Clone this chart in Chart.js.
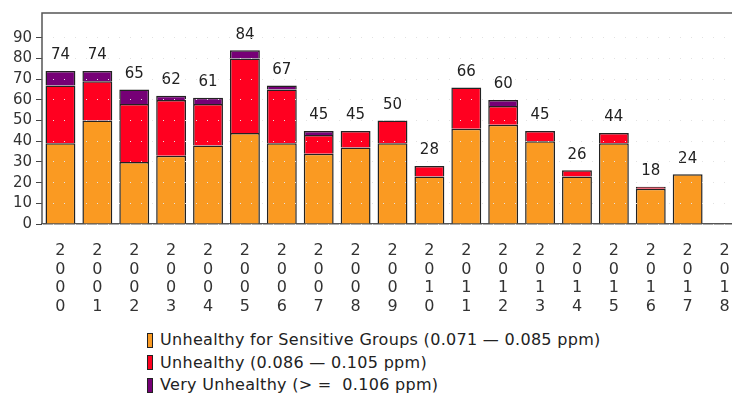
<!DOCTYPE html>
<html>
<head>
<meta charset="utf-8">
<script src="https://cdn.jsdelivr.net/npm/chart.js@4"></script>
<style>
  html, body { margin: 0; padding: 0; background: #fff; overflow: hidden; }
  #wrap { position: relative; width: 732px; height: 402px; overflow: hidden; }
  #chart { position: absolute; left: 0; top: 0; }
  #legend { position: absolute; left: 147px; top: 329px; font-family: "DejaVu Sans", sans-serif; font-size: 16px; letter-spacing: 0.3px; color: #222; }
  .row { height: 22.5px; line-height: 22.5px; white-space: pre; display: flex; align-items: center; }
  .box { width: 4px; height: 13px; border: 1px solid #222; margin-right: 7px; }
</style>
</head>
<body>
<div id="wrap">
  <canvas id="chart" width="745" height="322"></canvas>
  <div id="legend"></div>
</div>
<script>
// Ozone exceedance days per year, split by AQI category
const years = ['2000','2001','2002','2003','2004','2005','2006','2007','2008','2009',
               '2010','2011','2012','2013','2014','2015','2016','2017','2018'];
const sensitiveDays = [39, 50, 30, 33, 38, 44, 39, 34, 37, 39, 23, 46, 48, 40, 23, 39, 17, 24, null];
const unhealthyDays = [28, 19, 28, 27, 20, 36, 26,  9,  8, 11,  5, 20,  9,  5,  3,  5,  1, null, null];
const veryUnhealthyDays = [7, 5, 7, 2, 3, 4, 2, 2, null, null, null, null, 3, null, null, null, null, null, null];

const seriesNames = [
  'Unhealthy for Sensitive Groups (0.071 \u2014 0.085 ppm)',
  'Unhealthy (0.086 \u2014 0.105 ppm)',
  'Very Unhealthy (> =  0.106 ppm)'
];
const seriesColors = ['#FA9A22', '#FF0020', '#760076'];
const yTicks = [0, 10, 20, 30, 40, 50, 60, 70, 80, 90];

const FONT = '"DejaVu Sans", sans-serif';

// Year labels are stacked one digit per line
const yearLabels = years.map(y => y.split(''));

const allSeries = [sensitiveDays, unhealthyDays, veryUnhealthyDays];

// Totals written above each stack
const totalsPlugin = {
  id: 'totals',
  afterDatasetsDraw(chart) {
    const ctx = chart.ctx;
    const xs = chart.scales.x, ys = chart.scales.y;
    ctx.save();
    ctx.font = '15px ' + FONT;
    ctx.fillStyle = '#222';
    ctx.textAlign = 'center';
    ctx.textBaseline = 'bottom';
    years.forEach((yr, i) => {
      const total = allSeries.reduce((s, arr) => s + (arr[i] || 0), 0);
      if (!total) return;
      ctx.fillText(String(total), xs.getPixelForValue(i), ys.getPixelForValue(total) - 8);
    });
    ctx.restore();
  }
};

// Frame lines: top edge and left axis of the plot area
const frame = {
  id: 'frame',
  afterDraw(chart) {
    const a = chart.chartArea, ctx = chart.ctx;
    ctx.save();
    ctx.strokeStyle = '#555';
    ctx.lineWidth = 1.5;
    ctx.setLineDash([]);
    ctx.beginPath();
    ctx.moveTo(a.right, a.top);
    ctx.lineTo(a.left, a.top);
    ctx.lineTo(a.left, a.bottom);
    ctx.stroke();
    ctx.restore();
  }
};

const datasets = allSeries.map((data, k) => ({
  label: seriesNames[k],
  data: data,
  backgroundColor: seriesColors[k],
  borderColor: '#222',
  borderWidth: 1.5,
  barPercentage: 0.81,
  categoryPercentage: 1.0
}));

new Chart(document.getElementById('chart'), {
  type: 'bar',
  data: { labels: yearLabels, datasets: datasets },
  options: {
    responsive: false,
    animation: false,
    layout: { padding: { top: 6, right: 2, left: 0, bottom: 0 } },
    plugins: { legend: { display: false }, tooltip: { enabled: false } },
    scales: {
      x: {
        stacked: true,
        grid: { display: false },
        border: { display: true, color: '#555', width: 1.5 },
        ticks: {
          autoSkip: false, maxRotation: 0, minRotation: 0, padding: 10,
          color: '#333',
          font: { family: FONT, size: 16, lineHeight: 1.155 }
        },
        afterFit(scale) { scale.height = 98; }
      },
      y: {
        stacked: true,
        min: 0,
        max: 102,
        afterBuildTicks(scale) { scale.ticks = yTicks.map(v => ({ value: v })); },
        grid: { z: 1, color: '#e2e2e2', lineWidth: 1, tickColor: '#444', tickLength: 6, drawTicks: true },
        border: { display: false, dash: [1, 10] },
        ticks: {
          padding: 4, color: '#333',
          font: { family: FONT, size: 15 }
        },
        afterFit(scale) { scale.width = 42; }
      }
    }
  },
  plugins: [totalsPlugin, frame]
});

// Legend rows
const legend = document.getElementById('legend');
seriesNames.forEach((name, k) => {
  const row = document.createElement('div');
  row.className = 'row';
  const box = document.createElement('span');
  box.className = 'box';
  box.style.background = seriesColors[k];
  const txt = document.createElement('span');
  txt.textContent = name;
  row.appendChild(box);
  row.appendChild(txt);
  legend.appendChild(row);
});
</script>
</body>
</html>
